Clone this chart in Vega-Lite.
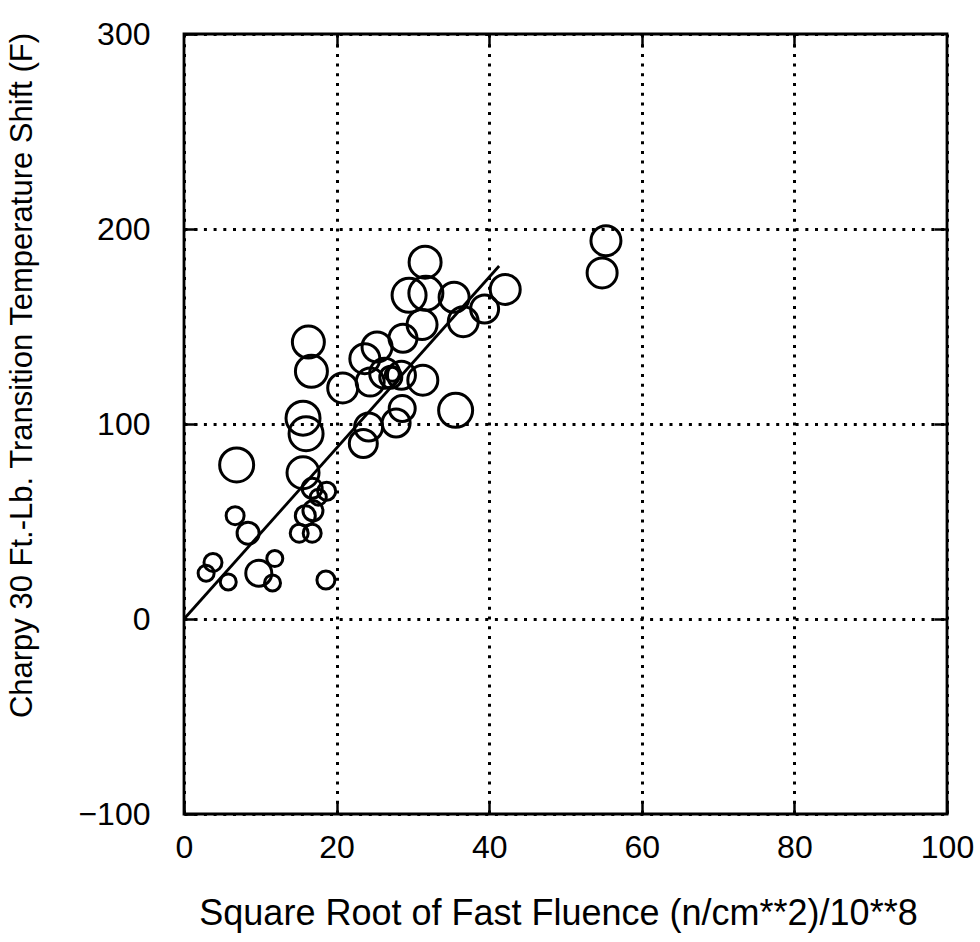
{
  "$schema": "https://vega.github.io/schema/vega-lite/v6.json",
  "width": 763,
  "height": 780,
  "autosize": "none",
  "padding": {"left": 184, "top": 34, "right": 33, "bottom": 128},
  "background": "white",
  "config": {
    "view": {"stroke": "black", "strokeWidth": 2.8},
    "font": "Liberation Sans"
  },
  "layer": [
    {
      "data": {
        "values": [
          {"fluence": 2.9, "shift": 23.5, "cu": 0.064},
          {"fluence": 3.8, "shift": 29, "cu": 0.081},
          {"fluence": 5.8, "shift": 19, "cu": 0.064},
          {"fluence": 6.7, "shift": 53, "cu": 0.081},
          {"fluence": 8.4, "shift": 44, "cu": 0.121},
          {"fluence": 6.9, "shift": 79, "cu": 0.289},
          {"fluence": 9.8, "shift": 23.5, "cu": 0.169},
          {"fluence": 11.9, "shift": 31, "cu": 0.064},
          {"fluence": 11.6, "shift": 18.5, "cu": 0.064},
          {"fluence": 18.6, "shift": 20, "cu": 0.081},
          {"fluence": 15.1, "shift": 44, "cu": 0.081},
          {"fluence": 16.8, "shift": 44, "cu": 0.081},
          {"fluence": 15.9, "shift": 53, "cu": 0.1},
          {"fluence": 16.9, "shift": 55.5, "cu": 0.1},
          {"fluence": 15.6, "shift": 75, "cu": 0.256},
          {"fluence": 16.8, "shift": 67, "cu": 0.1},
          {"fluence": 18.7, "shift": 65.5, "cu": 0.081},
          {"fluence": 17.6, "shift": 62.5, "cu": 0.064},
          {"fluence": 15.6, "shift": 103, "cu": 0.289},
          {"fluence": 16.0, "shift": 95, "cu": 0.289},
          {"fluence": 16.3, "shift": 142, "cu": 0.256},
          {"fluence": 16.7, "shift": 127, "cu": 0.256},
          {"fluence": 20.8, "shift": 118.5, "cu": 0.225},
          {"fluence": 23.5, "shift": 90, "cu": 0.196},
          {"fluence": 24.2, "shift": 98.5, "cu": 0.196},
          {"fluence": 27.8, "shift": 100.5, "cu": 0.196},
          {"fluence": 28.6, "shift": 108, "cu": 0.169},
          {"fluence": 35.6, "shift": 107, "cu": 0.289},
          {"fluence": 23.7, "shift": 133.5, "cu": 0.225},
          {"fluence": 25.3, "shift": 139.5, "cu": 0.225},
          {"fluence": 24.4, "shift": 121.5, "cu": 0.196},
          {"fluence": 26.3, "shift": 126, "cu": 0.225},
          {"fluence": 27.1, "shift": 124, "cu": 0.121},
          {"fluence": 27.3, "shift": 125.5, "cu": 0.049},
          {"fluence": 28.5, "shift": 125, "cu": 0.196},
          {"fluence": 31.3, "shift": 122.5, "cu": 0.225},
          {"fluence": 28.7, "shift": 144, "cu": 0.196},
          {"fluence": 31.2, "shift": 151, "cu": 0.225},
          {"fluence": 36.6, "shift": 152.5, "cu": 0.225},
          {"fluence": 29.5, "shift": 166, "cu": 0.289},
          {"fluence": 31.7, "shift": 167, "cu": 0.289},
          {"fluence": 35.4, "shift": 165, "cu": 0.225},
          {"fluence": 31.6, "shift": 183, "cu": 0.256},
          {"fluence": 39.4, "shift": 159, "cu": 0.196},
          {"fluence": 42.1, "shift": 169, "cu": 0.225},
          {"fluence": 55.3, "shift": 194, "cu": 0.225},
          {"fluence": 54.8, "shift": 177.5, "cu": 0.225}
        ]
      },
      "mark": {"type": "point", "shape": "circle", "filled": false, "stroke": "black", "strokeWidth": 3, "opacity": 1},
      "encoding": {
        "x": {
          "field": "fluence", "type": "quantitative",
          "scale": {"domain": [0, 100], "nice": false, "zero": false},
          "axis": {
            "orient": "bottom",
            "values": [0, 20, 40, 60, 80, 100],
            "grid": true, "gridColor": "black", "gridOpacity": 1, "gridDash": [3, 6.7], "gridWidth": 3,
            "domain": false,
            "ticks": true, "tickSize": -13, "tickColor": "black", "tickWidth": 2.5,
            "labelFontSize": 32, "labelColor": "black", "labelPadding": 31, "labelFlush": false,
            "title": "Square Root of Fast Fluence (n/cm**2)/10**8",
            "titleFontSize": 36, "titleFontWeight": "normal", "titleColor": "black",
            "titleX": 374, "titleY": 99, "titleBaseline": "middle"
          }
        },
        "y": {
          "field": "shift", "type": "quantitative",
          "scale": {"domain": [-100, 300], "nice": false, "zero": false},
          "axis": {
            "orient": "left",
            "values": [-100, 0, 100, 200, 300],
            "grid": true, "gridColor": "black", "gridOpacity": 1, "gridDash": [3, 6.7], "gridWidth": 3,
            "domain": false,
            "ticks": true, "tickSize": -13, "tickColor": "black", "tickWidth": 2.5,
            "labelFontSize": 32, "labelColor": "black", "labelPadding": 47, "labelFlush": false,
            "title": "Charpy 30 Ft.-Lb. Transition Temperature Shift (F)",
            "titleFontSize": 31, "titleFontWeight": "normal", "titleColor": "black",
            "titleX": -162, "titleY": 341, "titleBaseline": "middle", "titleAngle": -90
          }
        },
        "size": {
          "field": "cu", "type": "quantitative",
          "scale": {"domain": [0, 0.3], "range": [0, 1200]},
          "legend": null
        }
      }
    },
    {
      "data": {"values": [{"fluence": 0, "shift": 0}, {"fluence": 41.3, "shift": 181}]},
      "mark": {"type": "line", "color": "black", "strokeWidth": 2.8},
      "encoding": {
        "x": {
          "field": "fluence", "type": "quantitative",
          "axis": {"orient": "top", "values": [20, 40, 60, 80], "labels": false, "grid": false, "domain": false,
                   "ticks": true, "tickSize": -13, "tickColor": "black", "tickWidth": 2.5, "title": null}
        },
        "y": {
          "field": "shift", "type": "quantitative",
          "axis": {"orient": "right", "values": [0, 100, 200], "labels": false, "grid": false, "domain": false,
                   "ticks": true, "tickSize": -13, "tickColor": "black", "tickWidth": 2.5, "title": null}
        }
      }
    }
  ],
  "resolve": {"axis": {"x": "independent", "y": "independent"}}
}
